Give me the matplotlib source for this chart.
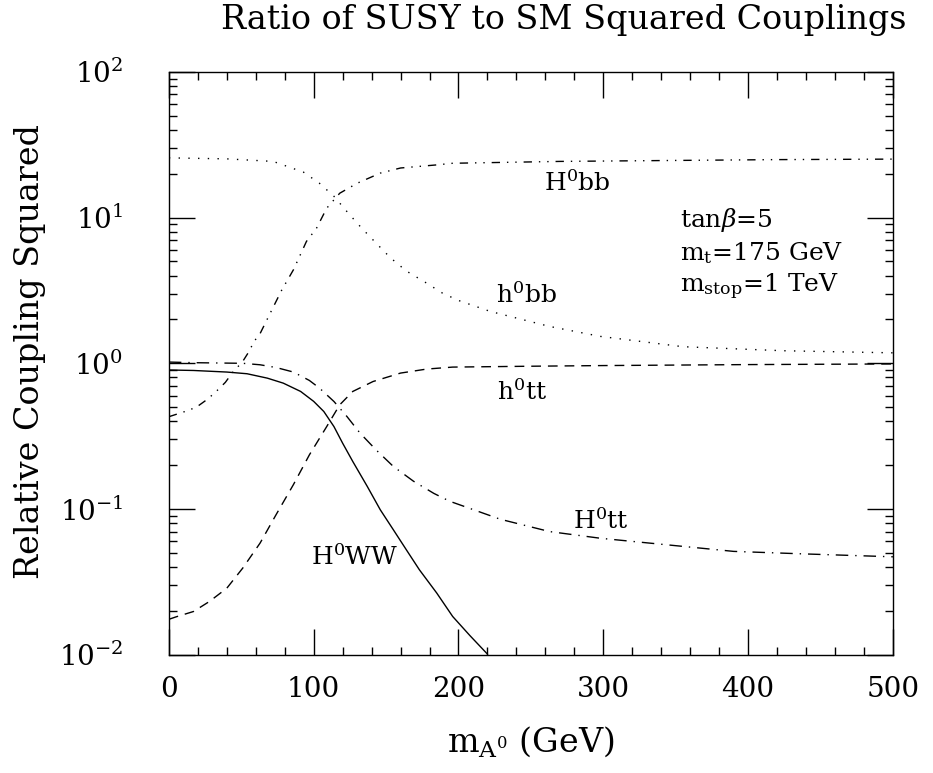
import matplotlib
matplotlib.use("Agg")
import matplotlib.pyplot as plt

plt.rcParams['font.family'] = ['DejaVu Serif']
plt.rcParams['mathtext.fontset'] = 'dejavuserif'

# h0 bb (dotted)
x_hbb = [0, 40, 72, 93, 104, 114, 124, 133, 143, 153, 164, 177, 189, 200, 222, 263, 298, 355, 424, 500]
y_hbb = [25.7, 25.3, 24.3, 20.5, 17.2, 14.0, 10.7, 8.5, 6.7, 5.3, 4.3, 3.6, 3.03, 2.7, 2.27, 1.79, 1.53, 1.30, 1.22, 1.18]

# H0 bb (dash-dot-dot)
x_Hbb = [0, 12, 19, 27, 34, 39, 44, 51, 55, 59, 63, 70, 78, 86, 95, 102, 109, 118, 130, 146, 160, 185, 196, 270, 355, 420, 500]
y_Hbb = [0.43, 0.47, 0.50, 0.57, 0.66, 0.74, 0.865, 1.03, 1.19, 1.42, 1.6, 2.21, 3.19, 4.38, 6.86, 8.47, 11.6, 14.7, 17.2, 20.2, 21.9, 23.0, 23.6, 24.3, 24.7, 25.0, 25.2]

# h0 tt (dashed)
x_htt = [0, 5, 17, 28, 40, 51, 63, 74, 86, 97, 109, 118, 127, 141, 160, 178, 196, 250, 300, 400, 500]
y_htt = [0.0175, 0.0182, 0.0198, 0.0232, 0.0286, 0.0393, 0.0584, 0.0913, 0.147, 0.235, 0.368, 0.519, 0.641, 0.75, 0.857, 0.913, 0.942, 0.955, 0.965, 0.98, 0.99]

# H0 tt (dash-dot)
x_Htt = [0, 17, 51, 63, 74, 86, 97, 104, 114, 123, 132, 143, 155, 169, 183, 194, 229, 263, 298, 344, 390, 436, 500]
y_Htt = [1.02, 1.01, 1.0, 0.977, 0.936, 0.871, 0.763, 0.676, 0.547, 0.431, 0.332, 0.255, 0.196, 0.155, 0.128, 0.113, 0.085, 0.070, 0.063, 0.0568, 0.0512, 0.0493, 0.047]

# H0 WW (solid)
x_HWW = [0, 17, 40, 54, 68, 79, 91, 100, 107, 114, 120, 127, 137, 146, 155, 164, 173, 185, 196, 208, 220]
y_HWW = [0.90, 0.893, 0.871, 0.848, 0.791, 0.731, 0.641, 0.548, 0.467, 0.368, 0.283, 0.212, 0.143, 0.0988, 0.0721, 0.0525, 0.0383, 0.0265, 0.0183, 0.0135, 0.0101]

xtick_vals = [0, 100, 200, 300, 400, 500]
ytick_vals = [1e-2, 1e-1, 1e0, 1e1, 1e2]
ytick_labels = [r'10$^{-2}$', r'10$^{-1}$', r'10$^{0}$', r'10$^{1}$', r'10$^{2}$']

fig = plt.figure(figsize=(9.33, 7.73), dpi=100)
ax = fig.add_axes([0.181, 0.153, 0.776, 0.754])

ax.plot(x_hbb, y_hbb, color='black', lw=1.0, linestyle=(0, (1, 6)))
ax.plot(x_Hbb, y_Hbb, color='black', lw=1.0, linestyle=(0, (6, 5, 1, 5, 1, 5)))
ax.plot(x_htt, y_htt, color='black', lw=1.0, linestyle=(0, (7, 5)))
ax.plot(x_Htt, y_Htt, color='black', lw=1.0, linestyle=(0, (9, 5, 1, 5)))
ax.plot(x_HWW, y_HWW, color='black', lw=1.0, linestyle='-')

ax.set_yscale('log')
ax.set_xlim(0, 500)
ax.set_ylim(1e-2, 1e2)
ax.set_xticks(xtick_vals)
ax.set_xticks(range(0, 501, 20), minor=True)
ax.set_yticks(ytick_vals)
ax.set_yticklabels(ytick_labels)

ax.tick_params(which='both', direction='in', top=True, right=True, labelsize=20)
ax.tick_params(which='major', length=19, width=1.0)
ax.tick_params(which='minor', length=6, width=1.0)
ax.tick_params(axis='x', which='major', pad=15)
ax.tick_params(axis='y', which='major', pad=33)
for s in ax.spines.values():
    s.set_linewidth(1.0)

# curve labels
fs = 18
ax.text(282, 17.3, r'H$^0$bb', fontsize=fs, ha='center', va='center')
ax.text(247, 2.95, r'h$^0$bb', fontsize=fs, ha='center', va='center')
ax.text(244, 0.637, r'h$^0$tt', fontsize=fs, ha='center', va='center')
ax.text(298, 0.083, r'H$^0$tt', fontsize=fs, ha='center', va='center')
ax.text(128, 0.047, r'H$^0$WW', fontsize=fs, ha='center', va='center')
ax.text(353, 9.66, r'tan$\beta$=5', fontsize=fs, ha='left', va='center')
ax.text(353, 5.73, r'm$_{\rm t}$=175 GeV', fontsize=fs, ha='left', va='center')
ax.text(353, 3.35, r'm$_{\rm stop}$=1 TeV', fontsize=fs, ha='left', va='center')

ax.set_xlabel(r'm$_{{\rm A}^{\rm 0}}$ (GeV)', fontsize=24)
ax.xaxis.set_label_coords(0.5, -0.12)
ax.set_ylabel('Relative Coupling Squared', fontsize=24)
ax.yaxis.set_label_coords(-0.17, 0.52)

fig.text(0.604, 0.974, 'Ratio of SUSY to SM Squared Couplings', fontsize=24, ha='center', va='center')

fig.savefig('out.png', dpi=100)
